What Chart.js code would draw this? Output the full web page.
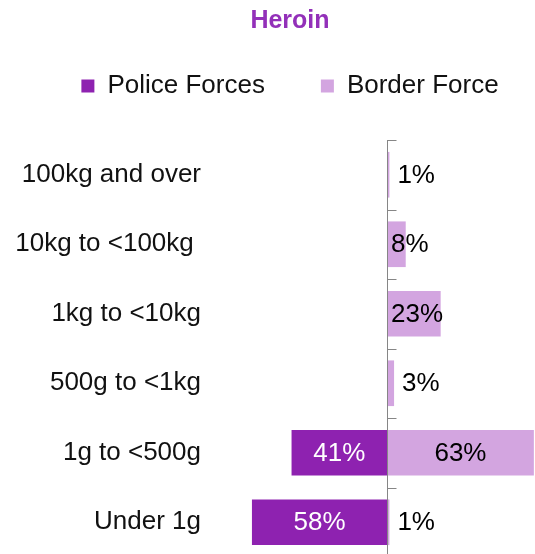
<!DOCTYPE html>
<html>
<head>
<meta charset="utf-8">
<script src="https://cdn.jsdelivr.net/npm/chart.js@4"></script>
<style>
  html, body { margin: 0; padding: 0; background: #fff; overflow: hidden; }
  /* canvas is a bit wider/taller than the window, as in the original crop */
  #wrap { width: 580px; height: 557px; }
</style>
</head>
<body>
<div id="wrap"><canvas id="myChart"></canvas></div>
<script>
let myChart = document.getElementById('myChart').getContext('2d');

// Seizure size bands, top to bottom (trailing space is in the original label)
let sizeBands = ['100kg and over', '10kg to <100kg ', '1kg to <10kg', '500g to <1kg', '1g to <500g', 'Under 1g'];
// Share of heroin seizures by size, %
let policeForces = [0, 0, 0, 0, 41, 58];   // drawn to the left of the axis
let borderForce = [1, 8, 23, 3, 63, 1];

let policeColour = '#8e22b0';
let borderColour = '#d3a5e0';
let fontFamily = '"Liberation Sans", Arial, sans-serif';

Chart.defaults.font.family = fontFamily;
Chart.defaults.color = '#000';

// vertical axis through zero, with short ticks between the bands
const centreAxis = {
  id: 'centreAxis',
  afterDatasetsDraw(chart) {
    const {ctx: c, chartArea, scales: {x, y}} = chart;
    const x0 = Math.round(x.getPixelForValue(0)) + 0.5;
    c.save();
    c.strokeStyle = '#868686';
    c.lineWidth = 1;
    c.beginPath();
    c.moveTo(x0, chartArea.top);
    c.lineTo(x0, chartArea.bottom);
    for (let i = 0; i <= sizeBands.length; i++) {
      const yy = Math.round(y.getPixelForValue(i - 0.5)) + 0.5;
      c.moveTo(x0, yy);
      c.lineTo(x0 + 9, yy);
    }
    c.stroke();
    c.restore();
  }
};

// percentage labels on the bars
const barLabels = {
  id: 'barLabels',
  afterDatasetsDraw(chart) {
    const c = chart.ctx;
    c.save();
    c.font = '26px ' + fontFamily;
    c.textBaseline = 'middle';
    chart.data.datasets.forEach((ds, di) => {
      chart.getDatasetMeta(di).data.forEach((bar, i) => {
        const v = Math.abs(ds.data[i]);
        if (!v) return;
        const text = v + '%';
        const tw = c.measureText(text).width;
        const w = Math.abs(bar.x - bar.base);
        c.fillStyle = di === 0 ? '#fff' : '#000';
        if (w < 15) {
          c.textAlign = 'left';
          c.fillText(text, bar.x + 8, bar.y + 1);
        } else if (bar.x < bar.base) {
          c.textAlign = 'center';
          c.fillText(text, (bar.x + bar.base) / 2, bar.y + 1);
        } else {
          c.textAlign = 'center';
          c.fillText(text, Math.max((bar.x + bar.base) / 2, bar.base + tw / 2 + 4), bar.y + 1);
        }
      });
    });
    c.restore();
  }
};

let heroinChart = new Chart(myChart, {
  type: 'bar',
  data: {
    labels: sizeBands,
    datasets: [{
      label: 'Police Forces',
      data: policeForces.map(v => -v),
      backgroundColor: policeColour,
      borderWidth: 0,
      categoryPercentage: 1,
      barPercentage: 0.657
    }, {
      label: 'Border Force',
      data: borderForce,
      backgroundColor: borderColour,
      borderWidth: 0,
      categoryPercentage: 1,
      barPercentage: 0.657
    }]
  },
  options: {
    indexAxis: 'y',
    responsive: true,
    maintainAspectRatio: false,
    animation: false,
    layout: { padding: 0 },
    scales: {
      x: {
        stacked: true,
        position: 'top',
        min: -76,
        max: 82.8,
        grid: { display: false },
        border: { display: false },
        ticks: { display: false },
        afterFit: s => { s.height = 31; }
      },
      y: {
        stacked: true,
        grid: { display: false, drawTicks: false },
        border: { display: false },
        ticks: { color: '#111', padding: 9, font: { size: 26 } },
        afterFit: s => {
          s.width = 210;
          s.paddingTop = 0;     // no room reserved for half label heights
          s.paddingBottom = 0;
        }
      }
    },
    plugins: {
      title: {
        display: true,
        text: 'Heroin',
        color: '#9330b9',
        font: { size: 25, weight: 'bold' },
        padding: { top: 6, bottom: -19 }
      },
      legend: {
        display: true,
        position: 'top',
        labels: {
          boxWidth: 13,
          boxHeight: 13,
          padding: 56,
          color: '#111',
          font: { size: 26 }
        }
      },
      tooltip: { enabled: false }
    }
  },
  plugins: [centreAxis, barLabels]
});
</script>
</body>
</html>
